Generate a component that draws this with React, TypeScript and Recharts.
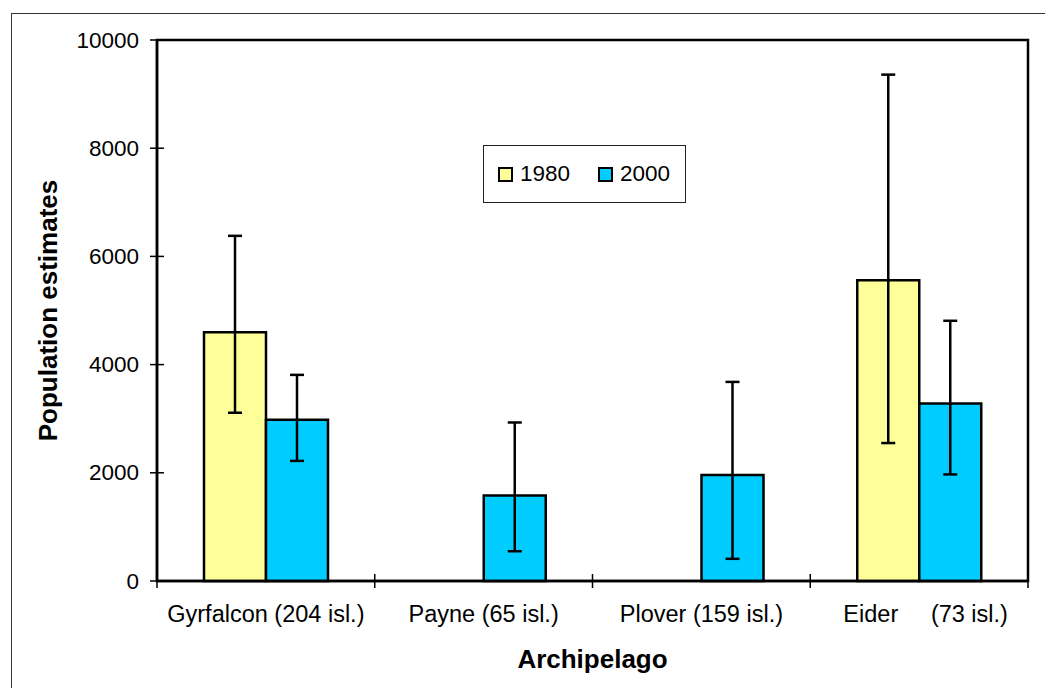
import React from "react";
import {
  BarChart,
  Bar,
  XAxis,
  YAxis,
  ErrorBar,
  Legend,
  ReferenceArea,
  Label,
} from "recharts";

const FONT = '"Liberation Sans", Arial, sans-serif';

// archipelagos on the x axis
const categories = [
  "Gyrfalcon (204 isl.)",
  "Payne (65 isl.)",
  "Plover (159 isl.)",
  "  Eider     (73 isl.)",
];

// population estimates
const series1980 = [4600, 0, 0, 5560];
const series2000 = [2980, 1580, 1960, 3280];

// ends of the error bars (low / high)
const low1980 = [3110, 0, 0, 2550];
const high1980 = [6380, 0, 0, 9360];
const low2000 = [2220, 550, 410, 1970];
const high2000 = [3810, 2930, 3680, 4810];

const yTicks = [0, 2000, 4000, 6000, 8000, 10000];

const data = categories.map((name, i) => ({
  name,
  y1980: series1980[i],
  y2000: series2000[i],
  e1980: [series1980[i] - low1980[i], high1980[i] - series1980[i]],
  e2000: [series2000[i] - low2000[i], high2000[i] - series2000[i]],
}));

function YTick(props: any) {
  const { x, y, payload } = props;
  return (
    <g>
      <line x1={x + 11} x2={x + 25} y1={y} y2={y} stroke="#000" strokeWidth={1.5} />
      <text
        x={x}
        y={y}
        textAnchor="end"
        dominantBaseline="central"
        fontSize={22.5}
        fontFamily={FONT}
        fill="#000"
      >
        {payload.value}
      </text>
    </g>
  );
}

function XTick(props: any) {
  const { x, y, payload, index, visibleTicksCount } = props;
  const half = payload.offset || 0;
  return (
    <g>
      {half > 0 && (
        <line x1={x - half} x2={x - half} y1={y - 7} y2={y + 7} stroke="#000" strokeWidth={1.5} />
      )}
      {half > 0 && index === visibleTicksCount - 1 && (
        <line x1={x + half} x2={x + half} y1={y - 7} y2={y + 7} stroke="#000" strokeWidth={1.5} />
      )}
      <text
        x={x}
        y={y + 33}
        textAnchor="middle"
        dominantBaseline="central"
        fontSize={23.5}
        fontFamily={FONT}
        fill="#000"
        style={{ whiteSpace: "pre" }}
      >
        {payload.value}
      </text>
    </g>
  );
}

function LegendBox(props: any) {
  const { payload = [] } = props;
  return (
    <div
      style={{
        boxSizing: "border-box",
        width: 203,
        height: 58,
        border: "1px solid #222",
        background: "#fff",
        display: "flex",
        alignItems: "center",
        paddingLeft: 14,
        fontFamily: FONT,
        fontSize: 22.5,
        color: "#000",
      }}
    >
      {payload.map((p: any) => (
        <div key={p.value} style={{ display: "flex", alignItems: "center", marginRight: 28 }}>
          <span
            style={{
              display: "inline-block",
              width: 11,
              height: 11,
              border: "2.5px solid #000",
              background: p.color,
              marginRight: 7,
            }}
          />
          <span style={{ lineHeight: 1 }}>{p.value}</span>
        </div>
      ))}
    </div>
  );
}

function YTitle(props: any) {
  const { viewBox } = props;
  const cy = viewBox.y + viewBox.height / 2;
  return (
    <text
      x={48}
      y={cy}
      transform={`rotate(-90, 48, ${cy})`}
      textAnchor="middle"
      dominantBaseline="central"
      fontSize={26}
      fontWeight="bold"
      fontFamily={FONT}
      fill="#000"
    >
      Population estimates
    </text>
  );
}

function XTitle(props: any) {
  const { viewBox } = props;
  return (
    <text
      x={viewBox.x + viewBox.width / 2}
      y={viewBox.y + 78}
      textAnchor="middle"
      dominantBaseline="central"
      fontSize={26}
      fontWeight="bold"
      fontFamily={FONT}
      fill="#000"
    >
      Archipelago
    </text>
  );
}

export default function App() {
  return (
    <div
      style={{
        position: "absolute",
        left: 0,
        top: 0,
        width: 1045,
        height: 688,
        overflow: "hidden",
        background: "#fff",
      }}
    >
      <div
        style={{
          position: "absolute",
          left: 11,
          top: 13,
          width: 1100,
          height: 800,
          border: "1px solid #333",
        }}
      />
      <div style={{ position: "absolute", left: 0, top: 0 }}>
        <BarChart
          width={1045}
          height={688}
          data={data}
          margin={{ top: 40, right: 17, bottom: 0, left: 0 }}
          barGap={0}
        >
          <XAxis
            dataKey="name"
            height={107}
            interval={0}
            tickLine={false}
            tickSize={0}
            tickMargin={0}
            tick={<XTick />}
            axisLine={{ stroke: "#000", strokeWidth: 2.5 }}
          >
            <Label content={<XTitle />} />
          </XAxis>
          <YAxis
            width={157}
            domain={[0, 10000]}
            ticks={yTicks}
            interval={0}
            tickLine={false}
            tickSize={7}
            tickMargin={11}
            tick={<YTick />}
            axisLine={{ stroke: "#000", strokeWidth: 2.5 }}
          >
            <Label content={<YTitle />} />
          </YAxis>
          <ReferenceArea y1={0} y2={10000} fill="none" stroke="#000" strokeWidth={2.5} />
          <Legend
            layout="horizontal"
            verticalAlign="middle"
            align="center"
            wrapperStyle={{ left: 483, top: 145, width: 203, height: 58 }}
            content={<LegendBox />}
          />
          <Bar
            dataKey="y1980"
            name="1980"
            fill="#FFFF99"
            stroke="#000"
            strokeWidth={2.5}
            barSize={62}
            isAnimationActive={false}
          >
            <ErrorBar dataKey="e1980" width={7} stroke="#000" strokeWidth={2.5} direction="y" isAnimationActive={false} />
          </Bar>
          <Bar
            dataKey="y2000"
            name="2000"
            fill="#00CCFF"
            stroke="#000"
            strokeWidth={2.5}
            barSize={62}
            isAnimationActive={false}
          >
            <ErrorBar dataKey="e2000" width={7} stroke="#000" strokeWidth={2.5} direction="y" isAnimationActive={false} />
          </Bar>
        </BarChart>
      </div>
    </div>
  );
}
